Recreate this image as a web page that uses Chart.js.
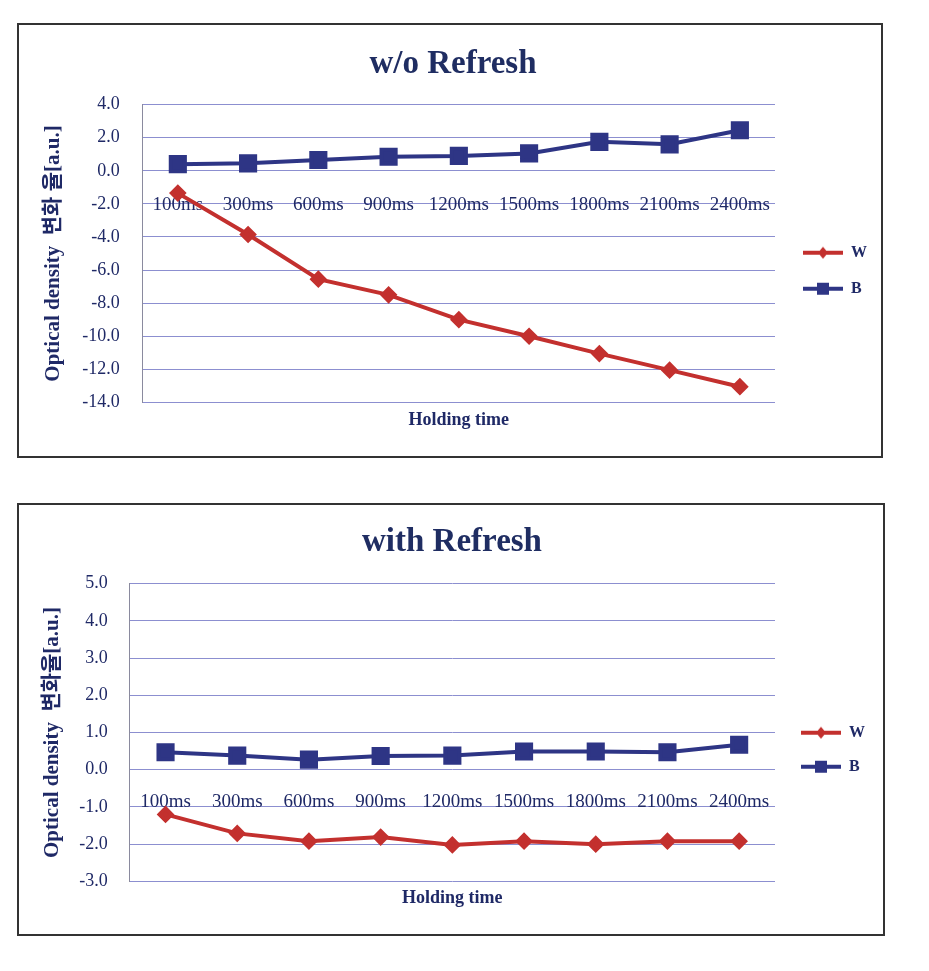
<!DOCTYPE html>
<html>
<head>
<meta charset="utf-8">
<script src="https://cdn.jsdelivr.net/npm/chart.js@4.4.0/dist/chart.umd.min.js"></script>
<style>
  body { margin: 0; background: #fff; }
  .box { position: absolute; border: 2px solid #333; background: #fff; }
  canvas { display: block; }
</style>
</head>
<body>
<div class="box" style="left:17px;top:23px;width:862px;height:431px;">
  <canvas id="chartTop" width="862" height="431"></canvas>
</div>
<div class="box" style="left:17px;top:503px;width:864px;height:429px;">
  <canvas id="chartBottom" width="864" height="429"></canvas>
</div>
<script>
// data
var holdingTimes = ['100ms', '300ms', '600ms', '900ms', '1200ms', '1500ms', '1800ms', '2100ms', '2400ms'];
var noRefreshW = [-1.35, -3.85, -6.55, -7.5, -9.0, -10.0, -11.05, -12.05, -13.05];
var noRefreshB = [0.4, 0.45, 0.65, 0.85, 0.9, 1.05, 1.75, 1.6, 2.45];
var refreshW = [-1.2, -1.71, -1.92, -1.81, -2.02, -1.92, -2.0, -1.92, -1.92];
var refreshB = [0.47, 0.38, 0.27, 0.37, 0.38, 0.49, 0.49, 0.47, 0.67];

var serif = "'Liberation Serif', 'Times New Roman', 'Noto Sans CJK KR', serif";
var navy = '#1f2966';
var redCol = '#c3302e';
var blueCol = '#2e3585';
var gridCol = '#8c8fd0';

// small line+marker pictures for the legend
function legendIcon(color, square) {
  var c = document.createElement('canvas');
  c.width = 48; c.height = 16;
  var g = c.getContext('2d');
  g.strokeStyle = color; g.fillStyle = color; g.lineWidth = 4;
  g.beginPath(); g.moveTo(8, 8); g.lineTo(48, 8); g.stroke();
  g.beginPath();
  if (square) {
    g.rect(22, 2, 12, 12);
  } else {
    g.moveTo(28, 2); g.lineTo(33, 8); g.lineTo(28, 14); g.lineTo(23, 8); g.closePath();
  }
  g.fill();
  return c;
}
var icons = [legendIcon(redCol, false), legendIcon(blueCol, true)];

function makeChart(id, o) {
  var ctx = document.getElementById(id).getContext('2d');
  return new Chart(ctx, {
    type: 'line',
    data: {
      labels: holdingTimes,
      datasets: [{
        label: 'W',
        data: o.w,
        borderColor: redCol,
        backgroundColor: redCol,
        borderWidth: 4,
        pointStyle: 'rectRot',
        pointRadius: 6,
        pointHoverRadius: 6,
        tension: 0,
        xAxisID: 'x'
      }, {
        label: 'B',
        data: o.b,
        borderColor: blueCol,
        backgroundColor: blueCol,
        borderWidth: 4,
        pointStyle: 'rect',
        pointRadius: o.sq,
        pointHoverRadius: o.sq,
        tension: 0,
        xAxisID: 'x'
      }]
    },
    options: {
      responsive: false,
      animation: false,
      layout: { padding: { left: 10, right: o.padRight, top: 0, bottom: 25 } },
      plugins: {
        title: {
          display: true,
          text: o.title,
          color: '#1f2d62',
          font: { family: serif, size: 33, weight: 'bold' },
          padding: { top: o.titleTop, bottom: o.titleBottom }
        },
        legend: {
          position: 'right',
          fullSize: false,
          // blank title only nudges the legend rows down
          title: { display: true, text: ' ', padding: 10, font: { size: 12 } },
          labels: {
            usePointStyle: true,
            pointStyleWidth: 48,
            padding: o.legPad,
            color: navy,
            font: { family: serif, size: 16, weight: 'bold' },
            generateLabels: function (chart) {
              var items = Chart.defaults.plugins.legend.labels.generateLabels(chart);
              items.forEach(function (it) { it.pointStyle = icons[it.datasetIndex]; });
              return items;
            }
          }
        },
        tooltip: { enabled: false }
      },
      scales: {
        x: {
          type: 'category',
          position: { y: 0 },
          offset: true,
          grid: { display: false, drawTicks: false },
          border: { display: false },
          ticks: { color: navy, padding: o.xPad, font: { family: serif, size: 19 }, maxRotation: 0, autoSkip: false },
          afterFit: function (s) { s.paddingLeft = 0; s.paddingRight = 0; }
        },
        xt: {
          type: 'category',
          position: 'bottom',
          grid: { display: false, drawTicks: false },
          border: { display: false },
          ticks: { display: false },
          title: {
            display: true,
            text: 'Holding time',
            color: navy,
            font: { family: serif, size: 18, weight: 'bold' },
            padding: { top: o.holdTop, bottom: 0 }
          }
        },
        y: {
          min: o.min,
          max: o.max,
          grid: { color: gridCol, lineWidth: 1, drawTicks: false },
          border: { display: true, color: '#8a8a9e', width: 1 },
          ticks: {
            stepSize: o.step,
            color: navy,
            padding: o.yPad,
            font: { family: serif, size: 18 },
            callback: function (v) { return Number(v).toFixed(1); }
          },
          title: {
            display: true,
            text: o.yTitle,
            color: navy,
            font: { family: serif, size: 21, weight: 'bold' },
            // tick padding is counted twice in the axis width, so take some back here
            padding: { top: o.yTitleTop, bottom: o.yTitleBottom }
          }
        }
      }
    }
  });
}

makeChart('chartTop', {
  title: 'w/o Refresh', w: noRefreshW, b: noRefreshB, sq: 10,
  min: -14, max: 4, step: 2,
  yTitle: 'Optical density  변화 율[a.u.]',
  titleTop: 20, titleBottom: 20, holdTop: 7, xPad: 23,
  yPad: 23, yTitleTop: 12, yTitleBottom: -7,
  padRight: 4, legPad: 20
});

makeChart('chartBottom', {
  title: 'with Refresh', w: refreshW, b: refreshB, sq: 10,
  min: -3, max: 5, step: 1,
  yTitle: 'Optical density  변화율[a.u.]',
  titleTop: 18, titleBottom: 21, holdTop: 6, xPad: 21,
  yPad: 22, yTitleTop: 11, yTitleBottom: -8,
  padRight: 8, legPad: 18
});
</script>
</body>
</html>
